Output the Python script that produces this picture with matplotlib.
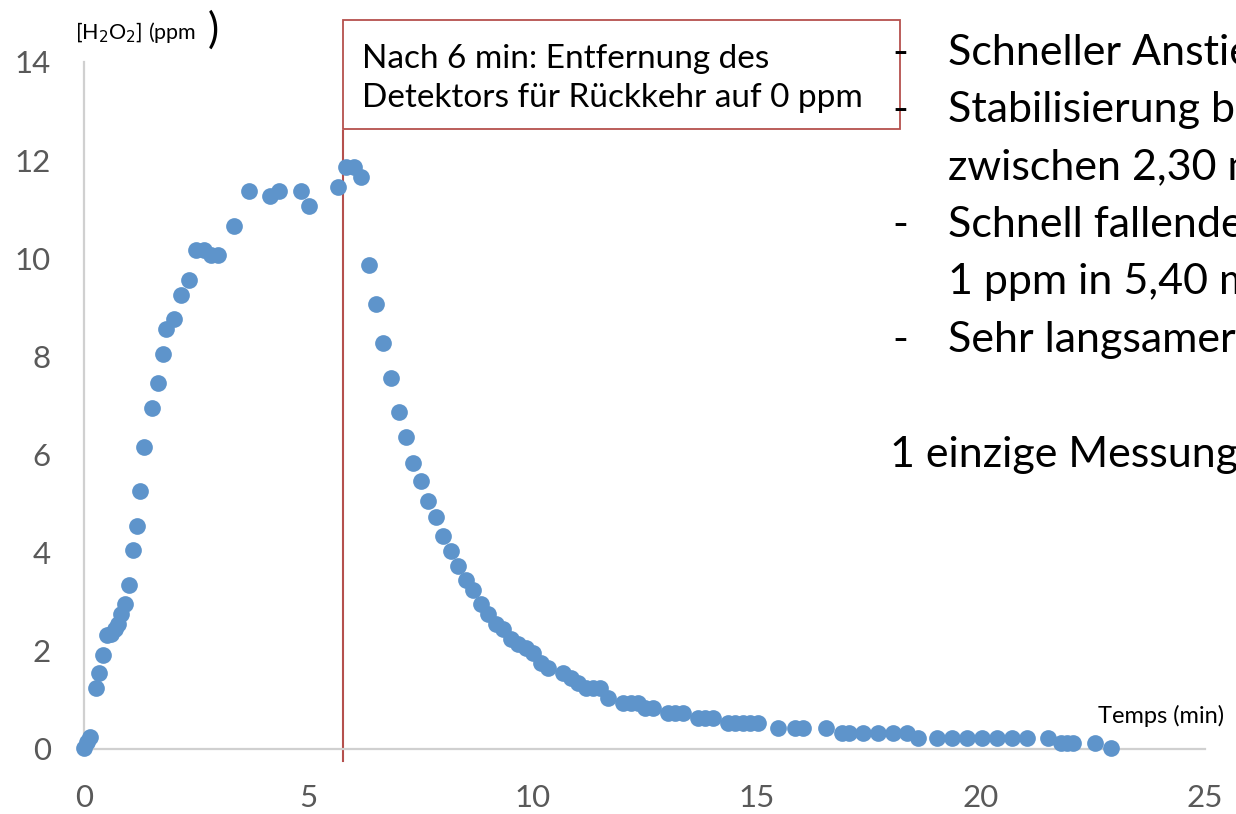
import numpy as np
import matplotlib.pyplot as plt
from matplotlib.patches import Rectangle

plt.rcParams['font.family'] = ['Lato', 'DejaVu Sans']

# Messreihe: Zeit (min) und H2O2-Konzentration (ppm)
temps = [0.0, 0.06, 0.13, 0.27, 0.33, 0.42, 0.51, 0.6, 0.68, 0.76, 0.82, 0.91,
         1.0, 1.09, 1.18, 1.25, 1.34, 1.52, 1.65, 1.76, 1.83, 2.0, 2.16, 2.34,
         2.5, 2.67, 2.83, 2.99, 3.34, 3.68, 4.15, 4.35, 4.84, 5.02, 5.66, 5.84,
         6.02, 6.18,
         6.35, 6.51, 6.67, 6.85, 7.02, 7.18, 7.34, 7.51, 7.67, 7.85, 8.0, 8.18,
         8.34, 8.52, 8.67, 8.85, 9.0, 9.19, 9.34, 9.52, 9.68, 9.86, 10.01,
         10.19, 10.35, 10.68, 10.86, 11.01, 11.19, 11.35, 11.5, 11.68, 12.02,
         12.2, 12.35, 12.51, 12.69, 13.02, 13.18, 13.36, 13.69, 13.85, 14.02,
         14.36, 14.52, 14.69, 14.85, 15.03, 15.47, 15.85, 16.03, 16.54, 16.9,
         17.06, 17.37, 17.7, 18.04, 18.35, 18.6, 19.02, 19.35, 19.69, 20.02,
         20.36, 20.69, 21.03, 21.49, 21.78, 21.92, 22.05, 22.54, 22.9]
h2o2 = [0.02, 0.15, 0.25, 1.24, 1.55, 1.91, 2.32, 2.34, 2.45, 2.55, 2.75, 2.95,
        3.34, 4.05, 4.54, 5.25, 6.15, 6.94, 7.45, 8.04, 8.55, 8.76, 9.25, 9.55,
        10.16, 10.16, 10.06, 10.06, 10.65, 11.36, 11.26, 11.36, 11.36, 11.06,
        11.45, 11.85, 11.85, 11.65,
        9.86, 9.06, 8.27, 7.56, 6.86, 6.35, 5.82, 5.46, 5.05, 4.72, 4.34, 4.03,
        3.73, 3.44, 3.24, 2.95, 2.75, 2.55, 2.44, 2.24, 2.14, 2.06, 1.96,
        1.75, 1.65, 1.55, 1.45, 1.34, 1.24, 1.24, 1.24, 1.04, 0.94,
        0.94, 0.94, 0.84, 0.84, 0.73, 0.73, 0.73, 0.63, 0.63, 0.63,
        0.53, 0.53, 0.53, 0.53, 0.53, 0.43, 0.43, 0.43, 0.43, 0.33,
        0.33, 0.33, 0.33, 0.33, 0.33, 0.22, 0.22, 0.22, 0.22, 0.22,
        0.22, 0.22, 0.22, 0.22, 0.12, 0.12, 0.12, 0.12, 0.02]

x_ticks = [0, 5, 10, 15, 20, 25]
y_ticks = [0, 2, 4, 6, 8, 10, 12, 14]
t_entfernung = 5.77

box_text = "Nach 6 min: Entfernung des\nDetektors für Rückkehr auf 0 ppm"
bullets = [("-", "Schneller Anstieg"),
           ("-", "Stabilisierung bei"),
           ("", "zwischen 2,30 min"),
           ("-", "Schnell fallende"),
           ("", "1 ppm in 5,40 min"),
           ("-", "Sehr langsamer")]
note = "1 einzige Messung"

blue = "#5e94cb"
red = "#b5504d"
grey = "#595959"

fig = plt.figure(figsize=(12.36, 8.14), dpi=100)
ax = fig.add_axes([0.068, 0.08, 0.907, 0.844])

ax.scatter(temps, h2o2, s=145, color=blue, linewidths=0, zorder=3, clip_on=False)

ax.set_xlim(0, 25)
ax.set_ylim(0, 14)
ax.set_xticks(x_ticks)
ax.set_yticks(y_ticks)
ax.tick_params(length=0, labelsize=22.5, labelcolor=grey)
ax.tick_params(axis='x', pad=25)
ax.tick_params(axis='y', pad=24)
for s in ['top', 'right']:
    ax.spines[s].set_visible(False)
for s in ['left', 'bottom']:
    ax.spines[s].set_color('#d0d0d0')
    ax.spines[s].set_linewidth(1.6)

# Senkrechte Linie beim Entfernen des Detektors
ax.plot([t_entfernung, t_entfernung], [-0.24, 12.6], color=red, lw=1.5,
        clip_on=False, zorder=2)

# Kasten mit Hinweis
ax.add_patch(Rectangle((t_entfernung, 12.63), 18.2 - t_entfernung, 2.23,
                       fill=False, edgecolor=red, lw=1.3, clip_on=False))
ax.text(t_entfernung + 0.42, 13.66, box_text, fontsize=24, va='center',
        ha='left', linespacing=1.4, color='black', clip_on=False)

# Achsenbeschriftungen
fig.text(0.061, 0.952, "[H$_2$O$_2$] (ppm", fontsize=15.5, ha='left',
         va='baseline')
fig.text(0.168, 0.947, ")", fontsize=30, ha='left', va='baseline')
ax.text(22.62, 0.68, "Temps (min)", fontsize=17, ha='left', va='center',
        clip_on=False)

# Stichpunkte rechts
y0 = 0.935
dy = 0.0705
for i, (dash, txt) in enumerate(bullets):
    yy = y0 - i * dy
    if dash:
        fig.text(0.722, yy, dash, fontsize=31, ha='left', va='center')
    fig.text(0.767, yy, txt, fontsize=31, ha='left', va='center')
fig.text(0.720, y0 - 7.05 * dy + 0.003, note, fontsize=31, ha='left',
         va='center')

fig.savefig("out.png", dpi=100)
